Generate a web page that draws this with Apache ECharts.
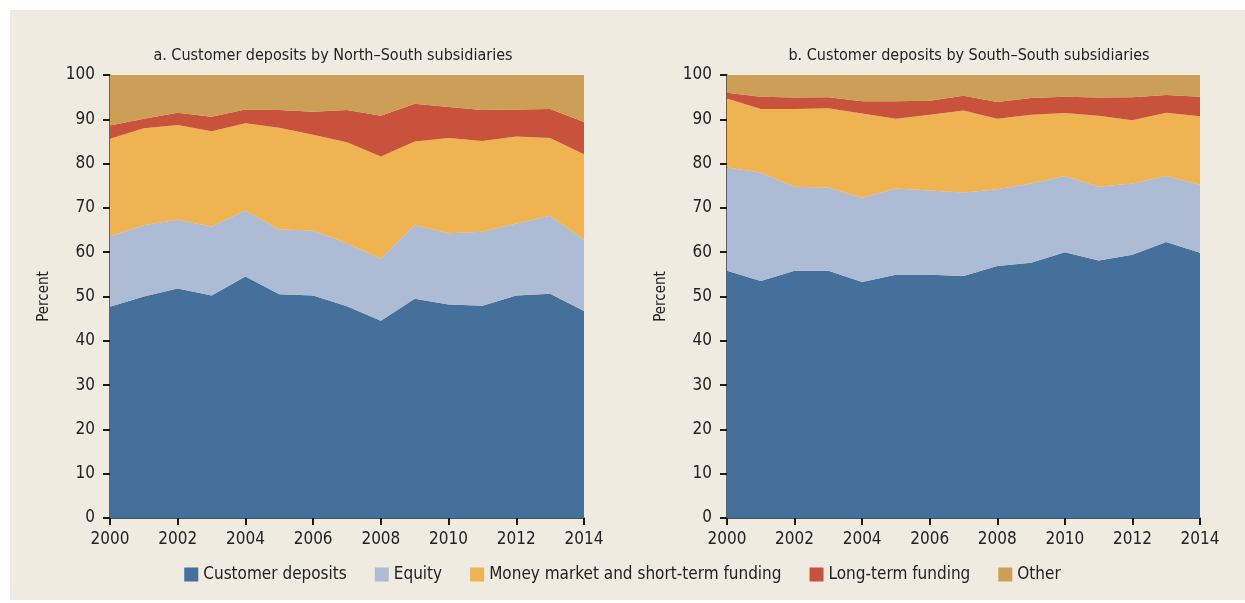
<!DOCTYPE html>
<html><head><meta charset="utf-8">
<script src="https://cdn.jsdelivr.net/npm/echarts@6/dist/echarts.min.js"></script>
<style>html,body{margin:0;padding:0;background:#fff}#c{width:1245px;height:603px}</style>
</head><body><div id="c"></div>
<script>
const years = ['2000','2001','2002','2003','2004','2005','2006','2007','2008','2009','2010','2011','2012','2013','2014'];
const seriesNames = ['Customer deposits','Equity','Money market and short-term funding','Long-term funding','Other'];
const colors = ['#45709c','#adbbd4','#efb352','#c8523b','#cd9e55'];
const titleA = 'a. Customer deposits by North\u2013South subsidiaries';
const titleB = 'b. Customer deposits by South\u2013South subsidiaries';
// Panel a (North-South)
const aDeposits = [47.7,50.0,51.8,50.2,54.5,50.5,50.2,47.8,44.5,49.5,48.2,47.9,50.2,50.6,46.7];
const aEquity   = [15.9,16.1,15.5,15.6,14.9,14.6,14.7,14.2,14.0,16.6,16.1,16.7,16.3,17.6,16.1];
const aMoney    = [22.0,21.9,21.4,21.5,19.7,23.0,21.6,22.8,23.1,18.9,21.5,20.5,19.6,17.6,19.3];
const aLong     = [3.0,2.1,2.8,3.3,3.1,4.0,5.2,7.3,9.2,8.5,7.0,7.0,6.1,6.5,7.3];
const aOther    = [11.4,9.9,8.5,9.4,7.8,7.9,8.3,7.9,9.2,6.5,7.2,7.9,7.8,7.7,10.6];
// Panel b (South-South)
const bDeposits = [55.8,53.5,55.8,55.8,53.3,54.9,54.9,54.6,56.9,57.6,60.0,58.1,59.4,62.3,59.9];
const bEquity   = [23.3,24.5,19.0,18.8,19.0,19.5,19.0,18.9,17.3,17.9,17.2,16.7,16.1,14.9,15.3];
const bMoney    = [15.6,14.3,17.5,17.9,19.0,15.7,17.1,18.5,15.9,15.5,14.2,16.0,14.3,14.3,15.5];
const bLong     = [1.3,2.8,2.6,2.5,2.8,4.0,3.2,3.3,3.8,3.8,3.7,4.1,5.2,4.0,4.4];
const bOther    = [4.0,4.9,5.1,5.0,5.9,5.9,5.8,4.7,6.1,5.2,4.9,5.1,5.0,4.5,4.9];
const yTicks = [0,10,20,30,40,50,60,70,80,90,100];

const FONT = '"Liberation Sans Narrow","DejaVu Sans Condensed","Roboto",sans-serif';
const chart = echarts.init(document.getElementById('c'));
const panelA = [aDeposits,aEquity,aMoney,aLong,aOther];
const panelB = [bDeposits,bEquity,bMoney,bLong,bOther];
const series = [];
[panelA,panelB].forEach((panel,gi)=>{
  panel.forEach((arr,si)=>{
    series.push({
      name: seriesNames[si], type:'line', stack:'s'+gi, xAxisIndex:gi, yAxisIndex:gi,
      data: arr, symbol:'none', lineStyle:{width:0}, areaStyle:{color:colors[si], opacity:1},
      itemStyle:{color:colors[si]}, emphasis:{disabled:true}, z: 2
    });
  });
});
const xAxis = (gi)=>({
  type:'category', gridIndex:gi, data:years, boundaryGap:false,
  axisLine:{lineStyle:{color:'#1a1a1a',width:1.5}},
  axisTick:{interval:1, length:7, lineStyle:{color:'#1a1a1a',width:2}},
  axisLabel:{interval:1, color:'#222', fontSize:17, fontFamily:FONT, margin:13},
  splitLine:{show:false}
});
const yAxis = (gi)=>({
  type:'value', gridIndex:gi, min:0, max:100, interval:10,
  name:'Percent', nameLocation:'middle', nameGap:58, nameRotate:90,
  nameTextStyle:{color:'#222', fontSize:15, fontFamily:FONT},
  axisLine:{show:true, lineStyle:{color:'#333',width:1.5}},
  axisTick:{show:true, length:7, lineStyle:{color:'#1a1a1a',width:2}},
  axisLabel:{color:'#222', fontSize:17, fontFamily:FONT, margin:15,
    formatter:(v)=> yTicks.indexOf(v)>=0 ? String(v) : ''},
  splitLine:{show:false}
});
chart.setOption({
  backgroundColor:'#ffffff',
  animation:false,
  graphic:[{type:'rect', shape:{x:10,y:10,width:1235,height:590}, style:{fill:'#efebe1'}, z:-10, silent:true}],
  title:[
    {text:titleA, left:328, top:43, textAlign:'center', textStyle:{color:'#222',fontSize:16,fontWeight:'normal',fontFamily:FONT}},
    {text:titleB, left:964, top:43, textAlign:'center', textStyle:{color:'#222',fontSize:16,fontWeight:'normal',fontFamily:FONT}}
  ],
  legend:{
    data:seriesNames, bottom:15, left:'center', itemWidth:14, itemHeight:14, itemGap:28,
    icon:'rect', textStyle:{color:'#222', fontSize:17, fontFamily:FONT}
  },
  grid:[
    {left:110, right:661, top:75, bottom:85, containLabel:false},
    {left:727, right:45, top:75, bottom:85, containLabel:false}
  ],
  xAxis:[xAxis(0), xAxis(1)],
  yAxis:[yAxis(0), yAxis(1)],
  series
});
</script></body></html>
